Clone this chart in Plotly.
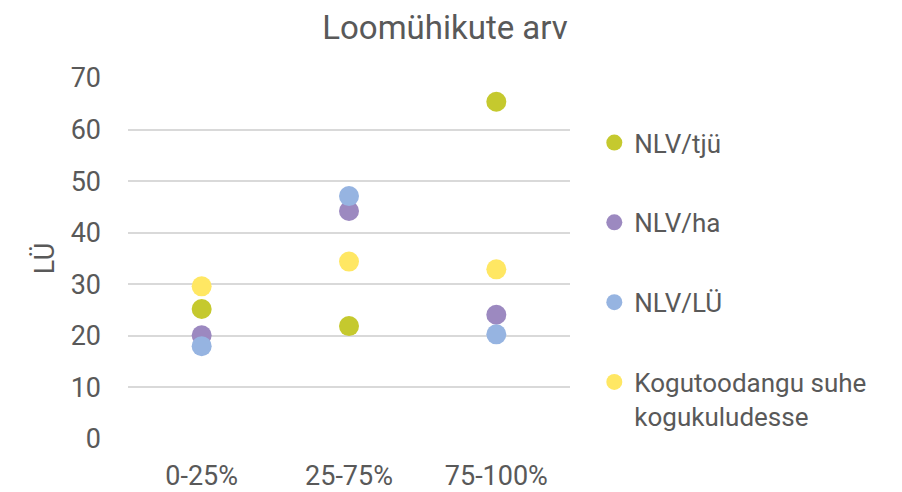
import plotly.graph_objects as go

categories = ["0-25%", "25-75%", "75-100%"]
series_names = ["NLV/tjü", "NLV/ha", "NLV/LÜ", "Kogutoodangu suhe<br>kogukuludesse"]
nlv_tju = [25.2, 21.9, 65.4]
nlv_ha = [20.1, 44.2, 24.1]
nlv_lu = [18.0, 47.1, 20.3]
kogu_suhe = [29.6, 34.4, 32.9]
colors = ["#C5C92E", "#9C89C0", "#96B4E1", "#FFE763"]
y_ticks = [0, 10, 20, 30, 40, 50, 60, 70]

fig = go.Figure()
for i, (name, vals) in enumerate(zip(series_names, [nlv_tju, nlv_ha, nlv_lu, kogu_suhe])):
    fig.add_trace(go.Scatter(
        x=categories, y=vals, mode="markers", name=name,
        marker=dict(size=20, color=colors[i]),
        legendgroup=str(i),
    ))

font_color = "#595959"
fig.update_layout(
    width=902, height=492,
    paper_bgcolor="white", plot_bgcolor="white",
    margin=dict(l=120, r=340, t=70, b=61),
    font=dict(family="Roboto", color=font_color, size=26),
    title=dict(text="Loomühikute arv", x=437 / 902, xanchor="center",
               y=1 - 19 / 492, yanchor="middle",
               font=dict(size=33, color=font_color)),
    xaxis=dict(type="category", showgrid=False, showline=False, zeroline=False,
               ticks="", tickfont=dict(size=27, color=font_color),
               ticklabelstandoff=18, range=[-0.5, 2.5], automargin=False),
    yaxis=dict(range=[0, 70], tickvals=y_ticks, showgrid=True,
               gridcolor="#D9D9D9", gridwidth=1.5, zeroline=False,
               showline=False, ticks="", ticklabelstandoff=26,
               tickfont=dict(size=27, color=font_color), automargin=False,
               title=dict(text="LÜ", font=dict(size=27, color=font_color), standoff=8)),
    legend=dict(x=1.055, y=0.886, xanchor="left", yanchor="top",
                tracegroupgap=43, font=dict(size=26, color=font_color),
                itemwidth=30, traceorder="grouped", valign="top"),
    showlegend=True,
)
fig.write_html("out.html")
